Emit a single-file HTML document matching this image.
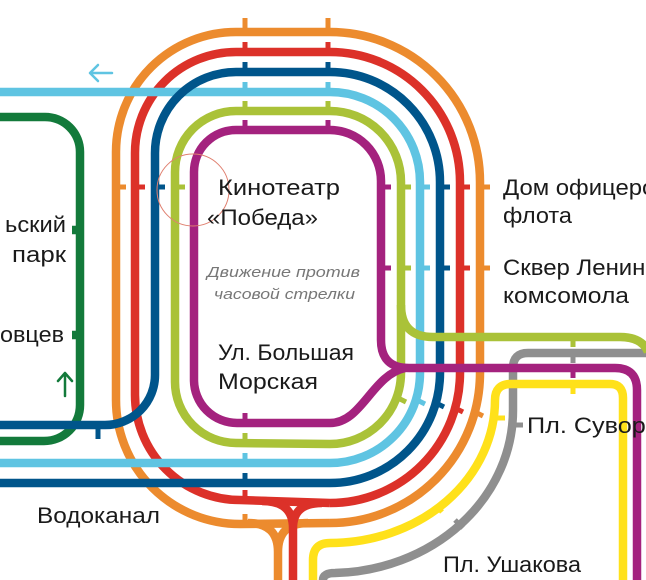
<!DOCTYPE html>
<html><head><meta charset="utf-8"><style>
html,body{margin:0;padding:0;background:#fff;width:646px;height:580px;overflow:hidden}
svg{display:block}
text{font-family:"Liberation Sans","DejaVu Sans",sans-serif;fill:#1a1a1a}
</style></head><body>
<svg width="646" height="580" viewBox="0 0 646 580" xmlns="http://www.w3.org/2000/svg">
<g fill="none" stroke-width="8.5" stroke-linecap="butt">
<path d="M0,117 L45,117 A35 35 0 0 1 80,152 L80,405 A36 36 0 0 1 44,441 L0,441" stroke="#137a3b"/>
<path d="M80,230 L72,230 M80,335 L72,335" stroke="#137a3b"/>
<path d="M323,580 Q323,573 335,573 A183 163 0 0 0 513,410 L513,368 Q513,353 528,353 L646,353" stroke="#8f8f8f"/>
<path d="M313,580 L313,560 Q313,543 330,543 A165 143 0 0 0 495,400 Q495,384 511,384 L610,384 Q623,384 623,398 L623,580" stroke="#ffe11a"/>
<path d="M330,523 A150 150 0 0 0 480,373 L480,182 A150 150 0 0 0 330,32 L236,32 A120 120 0 0 0 116,152 L116,400 A124 124 0 0 0 240,524 L330,523" stroke="#ec8b2e"/>
<path d="M248,523 Q278,523 278,552 L278,580 M308,523 Q278,523 278,552" stroke="#ec8b2e"/>
<path d="M330,503 A130 130 0 0 0 460,373 L460,182 A130 130 0 0 0 330,52 L236,52 A101 101 0 0 0 135,153 L135,395 A105 105 0 0 0 240,500 L330,503" stroke="#dc3129"/>
<path d="M262,501 Q293,501 293,528 L293,580 M322,503 Q293,503 293,528" stroke="#dc3129"/>
<path d="M0,463 L330,463 A90 90 0 0 0 420,373 L420,182 A90 90 0 0 0 330,92 L0,92" stroke="#5fc4e2"/>
<path d="M0,483 L330,483 A110 110 0 0 0 440,373 L440,182 A110 110 0 0 0 330,72 L236,72 A81 81 0 0 0 155,153 L155,375 A50 50 0 0 1 105,425 L0,425" stroke="#00558b"/>
<path d="M236,111 L330,111 A71 71 0 0 1 401,182 L401,373 A71 71 0 0 1 330,444 L236,443 A61 61 0 0 1 175,382 L175,172 A61 61 0 0 1 236,111" stroke="#aac238"/>
<path d="M401,305 Q401,337 433,337 L620,337 Q642,337 648,352" stroke="#aac238"/>
<path d="M236,130 L330,130 A51 51 0 0 1 381,181 L381,340 Q381,368 409,368 L615,368 Q637,368 637,390 L637,580" stroke="#a4227e"/>
<path d="M236,130 A42 42 0 0 0 194,172 L194,380 A43 43 0 0 0 237,423 L330,423 C362,423 372,375 405,368" stroke="#a4227e"/>
</g>
<g stroke-width="5" fill="none">
<path d="M245,32 v-14 M328,32 v-14" stroke="#ec8b2e"/>
<path d="M245,52 v-10 M328,52 v-10" stroke="#dc3129"/>
<path d="M245,72 v-10 M328,72 v-10" stroke="#00558b"/>
<path d="M245,92 v-10 M328,92 v-10" stroke="#5fc4e2"/>
<path d="M245,111 v-10 M328,111 v-10" stroke="#aac238"/>
<path d="M245,130 v-10 M328,130 v-10" stroke="#a4227e"/>
<path d="M116,187 h10" stroke="#ec8b2e"/>
<path d="M135,187 h10" stroke="#dc3129"/>
<path d="M155,187 h10" stroke="#00558b"/>
<path d="M175,187 h10" stroke="#aac238"/>
<path d="M381,187 h10 M381,268 h10" stroke="#a4227e"/>
<path d="M401,187 h10 M401,268 h10" stroke="#aac238"/>
<path d="M420,187 h10 M420,268 h10" stroke="#5fc4e2"/>
<path d="M440,187 h10 M440,268 h10" stroke="#00558b"/>
<path d="M460,187 h10 M460,268 h10" stroke="#dc3129"/>
<path d="M480,187 h10 M480,268 h10" stroke="#ec8b2e"/>
<path d="M245,423 v-10" stroke="#a4227e"/>
<path d="M245,443 v-10" stroke="#aac238"/>
<path d="M245,463 v-10" stroke="#5fc4e2"/>
<path d="M245,483 v-10" stroke="#00558b"/>
<path d="M245,500 v-10" stroke="#dc3129"/>
<path d="M245,524 v-10" stroke="#ec8b2e"/>
<path d="M98,425 v14" stroke="#00558b"/>
<path d="M573,337 v10" stroke="#aac238"/>
<path d="M573,353 v10" stroke="#8f8f8f"/>
<path d="M573,368 v10" stroke="#a4227e"/>
<path d="M573,384 v10" stroke="#ffe11a"/>
<path d="M513,425 h10" stroke="#8f8f8f"/>
<path d="M495,418 h10" stroke="#ffe11a"/>
<path d="M475,412 l8,4" stroke="#ec8b2e"/>
<path d="M455,408 l8,4" stroke="#dc3129"/>
<path d="M436,403 l8,4" stroke="#00558b"/>
<path d="M417,400 l8,4" stroke="#5fc4e2"/>
<path d="M398,398 l8,4" stroke="#aac238"/>
<path d="M455,520 l8,8" stroke="#8f8f8f"/>
<path d="M436,505 l6,7" stroke="#ffe11a"/>
</g>
<circle cx="193" cy="190" r="36" fill="none" stroke="#e08070" stroke-width="1"/>
<g fill="none" stroke-width="2.5" stroke-linecap="round" stroke-linejoin="round">
<path d="M112,73 H90 M98,65 L90,73 L98,81" stroke="#5fc4e2"/>
<path d="M65,396 V373 M58,381 L65,373 L72,381" stroke="#137a3b"/>
</g>
<g font-size="22" lengthAdjust="spacingAndGlyphs">
<text x="218" y="195" textLength="122" lengthAdjust="spacingAndGlyphs">Кинотеатр</text>
<text x="207" y="225" textLength="111" lengthAdjust="spacingAndGlyphs">«Победа»</text>
<text x="218" y="360" textLength="136" lengthAdjust="spacingAndGlyphs">Ул. Большая</text>
<text x="218" y="389" textLength="100" lengthAdjust="spacingAndGlyphs">Морская</text>
<text x="503" y="195" textLength="165" lengthAdjust="spacingAndGlyphs">Дом офицеров</text>
<text x="503" y="223" textLength="69" lengthAdjust="spacingAndGlyphs">флота</text>
<text x="503" y="275" textLength="200" lengthAdjust="spacingAndGlyphs">Сквер Ленинского</text>
<text x="503" y="303" textLength="126" lengthAdjust="spacingAndGlyphs">комсомола</text>
<text x="527" y="433" textLength="160" lengthAdjust="spacingAndGlyphs">Пл. Суворова</text>
<text x="443" y="572" textLength="138" lengthAdjust="spacingAndGlyphs">Пл. Ушакова</text>
<text x="37" y="523" textLength="123" lengthAdjust="spacingAndGlyphs">Водоканал</text>
<text x="5" y="232" textLength="61" lengthAdjust="spacingAndGlyphs">ьский</text>
<text x="12" y="262" textLength="54" lengthAdjust="spacingAndGlyphs">парк</text>
<text x="0" y="342" textLength="64" lengthAdjust="spacingAndGlyphs">овцев</text>
</g>
<g font-size="15" font-style="italic">
<text x="207" y="277" textLength="153" lengthAdjust="spacingAndGlyphs" style="fill:#777">Движение против</text>
<text x="214" y="299" textLength="141" lengthAdjust="spacingAndGlyphs" style="fill:#777">часовой стрелки</text>
</g>
</svg>
</body></html>
